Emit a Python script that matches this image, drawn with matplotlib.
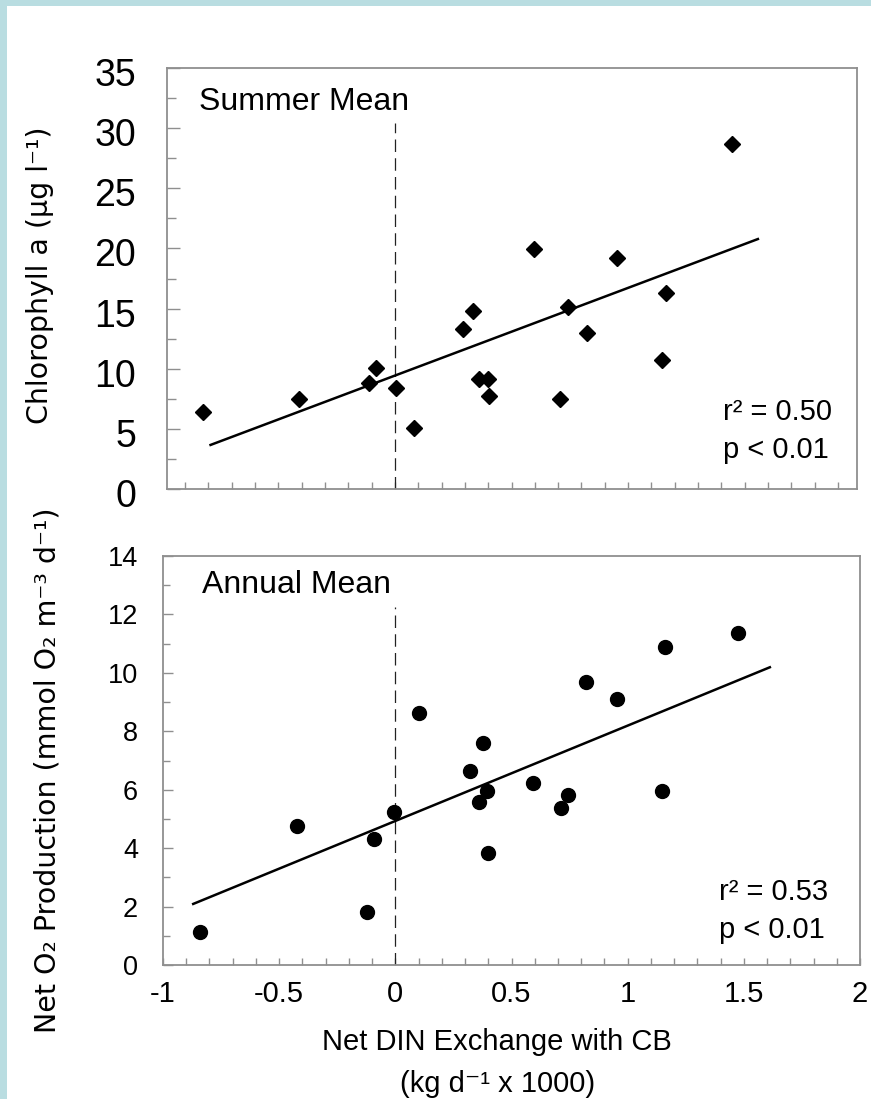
import matplotlib
matplotlib.use("Agg")
import matplotlib.pyplot as plt
from matplotlib.ticker import MultipleLocator
from matplotlib.patches import Rectangle
from matplotlib import transforms

# values
summer_x = [-0.823, -0.412, -0.112, -0.083, 0.004, 0.082, 0.293, 0.333, 0.362, 0.398,
            0.405, 0.597, 0.708, 0.744, 0.823, 0.954, 1.145, 1.162, 1.445]
summer_chl = [6.43, 7.46, 8.79, 10.08, 8.42, 5.10, 13.28, 14.80, 9.12, 9.12,
              7.73, 19.92, 7.46, 15.15, 12.94, 19.23, 10.72, 16.32, 28.65]

annual_x = [-0.839, -0.425, -0.122, -0.090, -0.007, 0.102, 0.322, 0.358, 0.378, 0.393,
            0.398, 0.594, 0.711, 0.745, 0.820, 0.954, 1.147, 1.160, 1.476]
annual_o2 = [1.13, 4.76, 1.80, 4.32, 5.25, 8.62, 6.65, 5.59, 7.60, 5.97,
             3.82, 6.24, 5.38, 5.82, 9.67, 9.10, 5.97, 10.90, 11.36]

# regression lines (slope, intercept, x span)
summer_fit = (7.29, 9.43, [-0.791, 1.557])
annual_fit = (3.264, 4.93, [-0.870, 1.612])

summer_stats = ["r\u00b2 = 0.50", "p < 0.01"]
annual_stats = ["r\u00b2 = 0.53", "p < 0.01"]

SANS = ["Liberation Sans", "DejaVu Sans"]
WIDE = ["DejaVu Sans"]
FRAME = "#8f8f8f"

fig = plt.figure(figsize=(8.71, 10.99), dpi=100)
fig.patch.set_facecolor("white")
# light blue strips along the top and left edges
fig.patches.append(Rectangle((0, 0), 7 / 871, 1, transform=fig.transFigure,
                             facecolor="#b9dde1", edgecolor="none", zorder=-1))
fig.patches.append(Rectangle((0, 1 - 6 / 1099), 1, 6 / 1099, transform=fig.transFigure,
                             facecolor="#b9dde1", edgecolor="none", zorder=-1))

ax1 = fig.add_axes([166.5 / 871, 1 - 489 / 1099, 690 / 871, 421 / 1099])
ax2 = fig.add_axes([163 / 871, 1 - 965 / 1099, 697 / 871, 409 / 1099])


def style_axes(ax, xlim, ylim, ymaj, ymin, ysize, ypad, ylen):
    ax.set_xlim(*xlim)
    ax.set_ylim(*ylim)
    for s in ax.spines.values():
        s.set_color(FRAME)
        s.set_linewidth(1.3)
    ax.xaxis.set_major_locator(MultipleLocator(0.5))
    ax.xaxis.set_minor_locator(MultipleLocator(0.1))
    ax.yaxis.set_major_locator(MultipleLocator(ymaj))
    ax.yaxis.set_minor_locator(MultipleLocator(ymin))
    ax.tick_params(axis="both", which="both", direction="in", color=FRAME, width=1.0,
                   top=False, right=False)
    ax.tick_params(axis="x", which="both", length=5)
    ax.tick_params(axis="y", which="major", length=ylen, pad=ypad, labelsize=ysize)
    ax.tick_params(axis="y", which="minor", length=ylen * 0.7)
    for lab in ax.get_yticklabels():
        lab.set_fontfamily(SANS)


style_axes(ax1, (-0.98, 1.98), (0, 35), 5, 2.5, 27, 22, 9)
style_axes(ax2, (-1, 2), (0, 14), 2, 1, 19.5, 18, 7)
ax1.tick_params(axis="x", labelbottom=False)
ax2.tick_params(axis="x", which="major", pad=11, labelsize=21)
ax2.xaxis.set_major_formatter(matplotlib.ticker.FuncFormatter(lambda v, p: f"{v:g}"))
for lab in ax2.get_xticklabels():
    lab.set_fontfamily(SANS)

# top-panel y labels sit a little below their ticks
shift = transforms.ScaledTranslation(0, -4 / 100, fig.dpi_scale_trans)
for lab in ax1.get_yticklabels():
    lab.set_transform(lab.get_transform() + shift)

# summer panel
ax1.axvline(0, ymin=0, ymax=30.4 / 35, color="#222222", lw=0.9, dashes=(10, 5))
m, b, xs = summer_fit
ax1.plot(xs, [m * v + b for v in xs], color="black", lw=1.8)
ax1.plot(summer_x, summer_chl, "D", color="black", markersize=8, linestyle="none")
ax1.text(-0.841, 32.2, "Summer Mean", fontsize=23, family=SANS, va="center", ha="left")
ax1.text(1.408, 6.43, summer_stats[0], fontsize=21, family=SANS, va="center", ha="left")
ax1.text(1.408, 3.24, summer_stats[1], fontsize=21, family=SANS, va="center", ha="left")

# annual panel
ax2.axvline(0, ymin=0, ymax=12.27 / 14, color="#222222", lw=0.9, dashes=(10, 5))
m, b, xs = annual_fit
ax2.plot(xs, [m * v + b for v in xs], color="black", lw=1.8)
ax2.plot(annual_x, annual_o2, "o", color="black", markersize=10, linestyle="none")
ax2.text(-0.833, 13.0, "Annual Mean", fontsize=23, family=SANS, va="center", ha="left")
ax2.text(1.392, 2.51, annual_stats[0], fontsize=21, family=SANS, va="center", ha="left")
ax2.text(1.392, 1.20, annual_stats[1], fontsize=21, family=SANS, va="center", ha="left")

# axis titles
fig.text(39.5 / 871, 1 - 275 / 1099, "Chlorophyll a (\u03bcg l\u207b\u00b9)", rotation=90,
         fontsize=20.5, family=WIDE, ha="center", va="center")
fig.text(48 / 871, 1 - 770 / 1099, "Net O\u2082 Production (mmol O\u2082 m\u207b\u00b3 d\u207b\u00b9)",
         rotation=90, fontsize=20.5, family=WIDE, ha="center", va="center")
fig.text(497 / 871, 1 - 1042 / 1099, "Net DIN Exchange with CB", fontsize=21,
         family=SANS, ha="center", va="center")
fig.text(498 / 871, 1 - 1084 / 1099, "(kg d\u207b\u00b9 x 1000)", fontsize=21,
         family=SANS, ha="center", va="center")

fig.savefig("out.png", dpi=100, facecolor=fig.get_facecolor())
